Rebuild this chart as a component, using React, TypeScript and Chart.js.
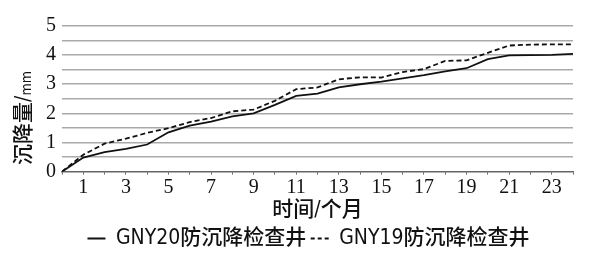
import React, { useEffect, useRef } from "react";
import { Chart, registerables } from "chart.js";

Chart.register(...registerables);

const months = [0, 1, 2, 3, 4, 5, 6, 7, 8, 9, 10, 11, 12, 13, 14, 15, 16, 17, 18, 19, 20, 21, 22, 23, 24];
const gny20 = [0, 0.48, 0.67, 0.78, 0.93, 1.35, 1.58, 1.72, 1.9, 2.0, 2.29, 2.6, 2.68, 2.89, 3.0, 3.09, 3.2, 3.31, 3.44, 3.55, 3.86, 3.99, 4.0, 4.01, 4.04];
const gny19 = [0, 0.58, 0.96, 1.13, 1.33, 1.49, 1.7, 1.84, 2.07, 2.13, 2.43, 2.83, 2.89, 3.17, 3.24, 3.23, 3.42, 3.52, 3.8, 3.82, 4.08, 4.33, 4.36, 4.37, 4.37];
const seriesNames = ["GNY20防沉降检查井", "GNY19防沉降检查井"];
const xTitle = "时间/个月";
const yTitleMain = "沉降量/";
const yTitleUnit = "mm";

const CJK = '"DejaVu Sans Condensed", "Noto Sans CJK SC", "Noto Sans", sans-serif';
const SERIF = '"Liberation Serif", "DejaVu Serif", serif';
const DASH = [5, 3];

export default function App() {
  const ref = useRef<HTMLCanvasElement | null>(null);
  useEffect(() => {
    document.body.style.margin = "0";
    const canvas = ref.current;
    if (!canvas) return;
    const yTitlePlugin = {
      id: "yTitle",
      afterDraw(chart: any) {
        const ctx = chart.ctx;
        ctx.save();
        ctx.translate(25, 118);
        ctx.rotate(-Math.PI / 2);
        ctx.fillStyle = "#111";
        ctx.textBaseline = "middle";
        ctx.font = `500 21px ${CJK}`;
        const w1 = ctx.measureText(yTitleMain).width;
        ctx.font = `500 14px ${CJK}`;
        const w2 = ctx.measureText(yTitleUnit).width;
        const start = -(w1 + w2) / 2;
        ctx.font = `500 21px ${CJK}`;
        ctx.textAlign = "left";
        ctx.fillText(yTitleMain, start, 0);
        ctx.font = `500 14px ${CJK}`;
        ctx.fillText(yTitleUnit, start + w1, 2);
        ctx.restore();
      },
    };
    const legendShift = {
      id: "legendShift",
      afterLayout(chart: any) {
        const lg = chart.legend;
        if (lg) {
          lg.left += 22;
          lg.right += 22;
        }
      },
    };
    const chart = new Chart(canvas, {
      type: "line",
      data: {
        datasets: [
          {
            label: seriesNames[0],
            data: months.map((m, i) => ({ x: m, y: gny20[i] })),
            borderColor: "#111",
            backgroundColor: "#111",
            borderWidth: 1.8,
            pointRadius: 0,
            tension: 0,
          },
          {
            label: seriesNames[1],
            data: months.map((m, i) => ({ x: m, y: gny19[i] })),
            borderColor: "#111",
            backgroundColor: "#111",
            borderWidth: 1.8,
            borderDash: DASH,
            pointRadius: 0,
            tension: 0,
          },
        ],
      },
      options: {
        animation: false,
        responsive: false,
        layout: { padding: { left: 0, right: 29, top: 26, bottom: 0 } },
        plugins: {
          tooltip: { enabled: false },
          legend: {
            position: "bottom",
            labels: {
              usePointStyle: true,
              pointStyle: "line",
              pointStyleWidth: 18,
              boxHeight: 2,
              color: "#111",
              padding: 4.4,
              font: { family: CJK, size: 21, weight: "500" },
              generateLabels: (ch: any) => {
                const items = Chart.defaults.plugins.legend.labels.generateLabels(ch);
                items.forEach((it: any, i: number) => {
                  it.lineDash = i === 1 ? [4, 3] : [];
                  it.lineWidth = 1.8;
                  it.strokeStyle = "#111";
                });
                return items;
              },
            },
          },
        },
        scales: {
          x: {
            type: "linear",
            min: 0,
            max: 24,
            afterFit(scale: any) {
              scale.height = 52;
            },
            grid: {
              drawOnChartArea: false,
              drawTicks: true,
              tickLength: 3,
              color: "#666",
            },
            border: { display: true, color: "#666", width: 1.5 },
            ticks: {
              stepSize: 1,
              autoSkip: false,
              maxRotation: 0,
              color: "#111",
              padding: 1,
              font: { family: SERIF, size: 20 },
              callback: (v: any) => (Number(v) % 2 === 1 ? String(v) : ""),
            },
            title: {
              display: true,
              text: xTitle,
              color: "#111",
              padding: { top: 0, bottom: 0 },
              font: { family: CJK, size: 21, weight: "500" },
            },
          },
          y: {
            min: 0,
            max: 5,
            afterFit(scale: any) {
              scale.width = 62;
            },
            grid: {
              drawTicks: false,
              color: (c: any) => (c.tick && c.tick.value === 0 ? "rgba(0,0,0,0)" : "#aaa"),
              lineWidth: 1.5,
            },
            border: { display: false },
            ticks: {
              stepSize: 0.5,
              autoSkip: false,
              color: "#111",
              padding: 6,
              font: { family: SERIF, size: 20 },
              callback: (v: any) => (Number.isInteger(Number(v)) ? String(v) : ""),
            },
          },
        },
      },
      plugins: [yTitlePlugin, legendShift],
    } as any);
    return () => chart.destroy();
  }, []);
  return <canvas ref={ref} width={602} height={259} style={{ display: "block" }} />;
}
